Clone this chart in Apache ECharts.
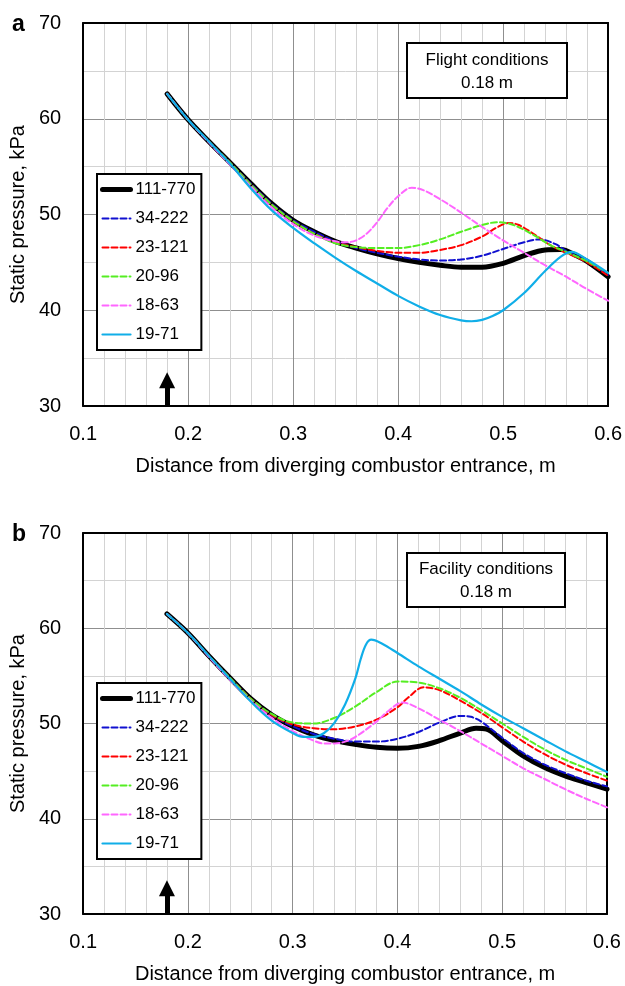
<!DOCTYPE html>
<html>
<head>
<meta charset="utf-8">
<script src="https://cdn.jsdelivr.net/npm/echarts@6/dist/echarts.min.js"></script>
<style>html,body{margin:0;padding:0;background:#fff;}#c{width:625px;height:986px;}</style>
</head>
<body>
<div id="c"></div>
<script>
// ---------- DATA ----------
const seriesNames = ['111-770', '34-222', '23-121', '20-96', '18-63', '19-71'];
const xTicks = [0.1, 0.2, 0.3, 0.4, 0.5, 0.6];
const yTicks = [30, 40, 50, 60, 70];

// Panel a: flight conditions  [distance m, static pressure kPa]
const flight_111_770 = [[0.18,62.6],[0.20,59.9],[0.22,57.6],[0.24,55.4],[0.26,53.2],[0.28,51.1],[0.30,49.4],[0.32,48.2],[0.34,47.2],[0.36,46.5],[0.38,45.9],[0.40,45.4],[0.42,45.0],[0.44,44.7],[0.46,44.5],[0.48,44.5],[0.50,44.9],[0.52,45.7],[0.54,46.3],[0.555,46.35],[0.57,45.7],[0.58,45.1],[0.60,43.5]];
const flight_34_222 = [[0.18,62.6],[0.20,59.9],[0.22,57.6],[0.24,55.4],[0.26,53.2],[0.28,51.1],[0.30,49.4],[0.32,48.2],[0.34,47.2],[0.36,46.5],[0.38,46.0],[0.40,45.6],[0.42,45.3],[0.44,45.2],[0.46,45.3],[0.48,45.7],[0.50,46.4],[0.52,47.1],[0.535,47.4],[0.55,46.9],[0.56,46.2],[0.58,45.1],[0.60,43.7]];
const flight_23_121 = [[0.18,62.6],[0.20,59.9],[0.22,57.6],[0.24,55.4],[0.26,53.1],[0.28,51.0],[0.30,49.3],[0.32,48.0],[0.34,47.1],[0.36,46.6],[0.38,46.2],[0.40,46.0],[0.42,46.0],[0.44,46.3],[0.46,46.8],[0.48,47.7],[0.495,48.7],[0.505,49.1],[0.515,48.9],[0.53,47.9],[0.545,46.8],[0.56,46.0],[0.58,45.0],[0.60,43.6]];
const flight_20_96 = [[0.18,62.6],[0.20,59.9],[0.22,57.6],[0.24,55.4],[0.26,53.1],[0.28,51.0],[0.30,49.3],[0.32,48.0],[0.34,47.0],[0.36,46.6],[0.38,46.5],[0.40,46.5],[0.42,46.8],[0.44,47.4],[0.46,48.2],[0.48,48.9],[0.495,49.2],[0.51,48.9],[0.53,47.8],[0.545,46.8],[0.56,46.1],[0.58,45.1],[0.60,43.9]];
const flight_18_63 = [[0.18,62.6],[0.20,59.9],[0.22,57.5],[0.24,55.2],[0.26,52.9],[0.28,50.7],[0.30,49.0],[0.32,47.8],[0.34,47.2],[0.35,47.1],[0.36,47.3],[0.37,48.0],[0.38,49.2],[0.39,50.7],[0.40,51.9],[0.413,52.8],[0.425,52.5],[0.44,51.6],[0.46,50.2],[0.48,48.7],[0.50,47.3],[0.52,46.0],[0.54,44.7],[0.56,43.5],[0.58,42.2],[0.60,41.0]];
const flight_19_71 = [[0.18,62.6],[0.20,59.9],[0.22,57.6],[0.24,55.3],[0.26,52.7],[0.28,50.4],[0.30,48.6],[0.32,47.0],[0.34,45.5],[0.36,44.1],[0.38,42.8],[0.40,41.5],[0.42,40.4],[0.44,39.5],[0.46,38.95],[0.47,38.85],[0.48,39.0],[0.49,39.4],[0.50,40.0],[0.52,41.8],[0.54,44.1],[0.555,45.6],[0.565,46.1],[0.58,45.3],[0.60,43.9]];

// Panel b: facility conditions
const facility_111_770 = [[0.18,61.5],[0.20,59.5],[0.22,57.1],[0.24,54.8],[0.26,52.6],[0.28,50.9],[0.30,49.7],[0.32,48.8],[0.34,48.2],[0.36,47.8],[0.38,47.5],[0.40,47.4],[0.42,47.6],[0.44,48.2],[0.46,49.0],[0.475,49.5],[0.485,49.4],[0.50,48.2],[0.52,46.6],[0.54,45.4],[0.56,44.5],[0.58,43.8],[0.60,43.1]];
const facility_34_222 = [[0.18,61.5],[0.20,59.5],[0.22,57.1],[0.24,54.8],[0.26,52.6],[0.28,50.9],[0.30,49.7],[0.32,48.9],[0.34,48.4],[0.36,48.1],[0.38,48.1],[0.40,48.4],[0.42,49.1],[0.44,50.1],[0.46,50.8],[0.47,50.7],[0.48,50.2],[0.50,48.5],[0.52,46.9],[0.54,45.7],[0.56,44.8],[0.58,44.0],[0.60,43.4]];
const facility_23_121 = [[0.18,61.5],[0.20,59.5],[0.22,57.1],[0.24,54.8],[0.26,52.6],[0.28,50.9],[0.30,49.9],[0.32,49.5],[0.34,49.4],[0.36,49.7],[0.38,50.4],[0.40,51.7],[0.41,52.7],[0.425,53.8],[0.44,53.5],[0.46,52.4],[0.48,51.1],[0.50,49.6],[0.52,48.1],[0.54,46.8],[0.56,45.7],[0.58,44.8],[0.60,44.0]];
const facility_20_96 = [[0.18,61.5],[0.20,59.5],[0.22,57.1],[0.24,54.8],[0.26,52.6],[0.28,51.0],[0.30,50.1],[0.32,50.0],[0.34,50.6],[0.36,51.8],[0.38,53.3],[0.40,54.4],[0.42,54.3],[0.44,53.7],[0.46,52.7],[0.48,51.4],[0.50,50.0],[0.52,48.6],[0.54,47.3],[0.56,46.2],[0.58,45.3],[0.60,44.4]];
const facility_18_63 = [[0.18,61.5],[0.20,59.5],[0.22,57.0],[0.24,54.6],[0.26,52.4],[0.28,50.6],[0.30,49.2],[0.32,48.2],[0.33,47.9],[0.34,47.9],[0.35,48.1],[0.36,48.6],[0.38,50.2],[0.39,51.2],[0.405,52.2],[0.42,51.6],[0.44,50.4],[0.46,49.2],[0.48,47.9],[0.50,46.6],[0.52,45.3],[0.54,44.2],[0.56,43.1],[0.58,42.1],[0.60,41.2]];
const facility_19_71 = [[0.18,61.5],[0.20,59.5],[0.22,57.1],[0.24,54.7],[0.26,52.3],[0.28,50.3],[0.30,49.0],[0.31,48.6],[0.32,48.6],[0.33,49.0],[0.34,50.1],[0.35,52.0],[0.36,54.8],[0.365,56.8],[0.37,58.3],[0.375,58.8],[0.385,58.4],[0.40,57.4],[0.42,56.0],[0.44,54.7],[0.46,53.4],[0.48,52.0],[0.50,50.7],[0.52,49.5],[0.54,48.3],[0.56,47.1],[0.58,46.0],[0.60,44.9]];

// inlet arrow (x position, base, end)
const arrowX = 0.18;
const arrowBase = 30;
const arrowEnd = 32.7;

const panelTexts = ['Flight conditions\n0.18 m', 'Facility conditions\n0.18 m'];
const panelLetters = ['a', 'b'];
const xTitle = 'Distance from diverging combustor entrance, m';
const yTitle = 'Static pressure, kPa';

// ---------- STYLES ----------
const FONT = "'Liberation Sans',Arial,sans-serif";
const styles = [
  {color:'#000000', width:5, type:'solid'},
  {color:'#1010d0', width:2, type:[6,3]},
  {color:'#ff0000', width:2, type:[6,3]},
  {color:'#55ee22', width:2, type:[6,3]},
  {color:'#ff66ff', width:2, type:[6,3]},
  {color:'#10aee8', width:2.2, type:'solid'}
];
const panels = [
  {data:[flight_111_770, flight_34_222, flight_23_121, flight_20_96, flight_18_63, flight_19_71], grid:{left:83, top:23, width:526, height:383}, legendTop:174},
  {data:[facility_111_770, facility_34_222, facility_23_121, facility_20_96, facility_18_63, facility_19_71], grid:{left:83, top:533, width:524, height:381}, legendTop:683}
];

const grids = [], xAxes = [], yAxes = [], series = [], legends = [];
panels.forEach((p, pi) => {
  grids.push(Object.assign({containLabel:false, show:false}, p.grid));
  xAxes.push({
    gridIndex: pi, type:'value', min: xTicks[0], max: xTicks[xTicks.length-1], interval: 0.1, position:'bottom',
    axisLine:{show:true, onZero:false, lineStyle:{color:'#000', width:2}},
    axisTick:{show:false},
    minorTick:{show:false, splitNumber:5},
    minorSplitLine:{show:true, lineStyle:{color:'#d3d3d3', width:1}},
    splitLine:{show:true, lineStyle:{color:'#8f8f8f', width:1}},
    axisLabel:{color:'#000', fontFamily:FONT, fontSize:20, margin:18, formatter: v => Number(v).toFixed(1)},
    name: xTitle, nameLocation:'middle', nameGap:50,
    nameTextStyle:{color:'#000', fontFamily:FONT, fontSize:20}
  });
  xAxes.push({
    gridIndex: pi, type:'value', min: xTicks[0], max: xTicks[xTicks.length-1], position:'top',
    axisLine:{show:true, onZero:false, lineStyle:{color:'#000', width:2}},
    axisTick:{show:false}, axisLabel:{show:false}, splitLine:{show:false}
  });
  yAxes.push({
    gridIndex: pi, type:'value', min: yTicks[0], max: yTicks[yTicks.length-1], interval: 10, position:'left',
    axisLine:{show:true, onZero:false, lineStyle:{color:'#000', width:2}},
    axisTick:{show:false},
    minorTick:{show:false, splitNumber:2},
    minorSplitLine:{show:true, lineStyle:{color:'#d3d3d3', width:1}},
    splitLine:{show:true, lineStyle:{color:'#8f8f8f', width:1}},
    axisLabel:{color:'#000', fontFamily:FONT, fontSize:20, margin:22},
    name: yTitle, nameLocation:'middle', nameGap:43,
    nameTextStyle:{color:'#000', fontFamily:FONT, fontSize:20}
  });
  yAxes.push({
    gridIndex: pi, type:'value', min: yTicks[0], max: yTicks[yTicks.length-1], position:'right',
    axisLine:{show:true, onZero:false, lineStyle:{color:'#000', width:2}},
    axisTick:{show:false}, axisLabel:{show:false}, splitLine:{show:false}
  });
  p.data.forEach((d, si) => {
    const s = {
      name: seriesNames[si], type:'line', data: d,
      xAxisIndex: pi*2, yAxisIndex: pi*2,
      showSymbol:false, symbol:'none', smooth:0.35,
      lineStyle: Object.assign({cap:'round', join:'round'}, styles[si]),
      itemStyle:{color: styles[si].color},
      z: 3 + si, silent:true, animation:false
    };
    if (si === 0) {
      s.markLine = {
        silent:true, animation:false,
        symbol:['none','triangle'], symbolSize:[16,16],
        label:{show:false},
        lineStyle:{color:'#000', width:5, type:'solid'},
        itemStyle:{color:'#000'},
        data:[[{coord:[arrowX, arrowBase]}, {coord:[arrowX, arrowEnd]}]]
      };
    }
    series.push(s);
  });
  legends.push({
    orient:'vertical', left:97, top:p.legendTop,
    data: seriesNames.map((n, i) => ({
      name:n,
      itemStyle:{opacity:0, borderWidth:0},
      lineStyle:{color:styles[i].color, width:styles[i].width, type:styles[i].type, opacity:1}
    })),
    itemWidth:28, itemHeight:14, itemGap:12,
    padding:[7,6,7,3],
    backgroundColor:'#fff', borderColor:'#000', borderWidth:2,
    textStyle:{color:'#000', fontFamily:FONT, fontSize:17},
    selectedMode:false, inactiveColor:'#000'
  });
});

const graphics = [];
[{x:407,y:43,w:160,h:55},{x:407,y:553,w:158,h:54}].forEach((b, i) => {
  graphics.push({type:'rect', shape:{x:b.x, y:b.y, width:b.w, height:b.h}, style:{fill:'#fff', stroke:'#000', lineWidth:2}, z:100});
  graphics.push({type:'text', x:b.x + b.w/2, y:b.y + b.h/2 + 1, style:{text:panelTexts[i], fill:'#000', font:'17px ' + FONT, align:'center', verticalAlign:'middle', lineHeight:23}, z:101});
});
graphics.push({type:'text', x:12, y:25, style:{text:panelLetters[0], fill:'#000', font:'bold 23px Liberation Sans, Arial, sans-serif', verticalAlign:'middle'}, z:101});
graphics.push({type:'text', x:12, y:535, style:{text:panelLetters[1], fill:'#000', font:'bold 23px Liberation Sans, Arial, sans-serif', verticalAlign:'middle'}, z:101});

const chart = echarts.init(document.getElementById('c'), null, {renderer:'canvas'});
chart.setOption({
  animation:false,
  backgroundColor:'#fff',
  grid: grids, xAxis: xAxes, yAxis: yAxes, series: series, legend: legends,
  graphic: graphics
});
</script>
</body>
</html>
